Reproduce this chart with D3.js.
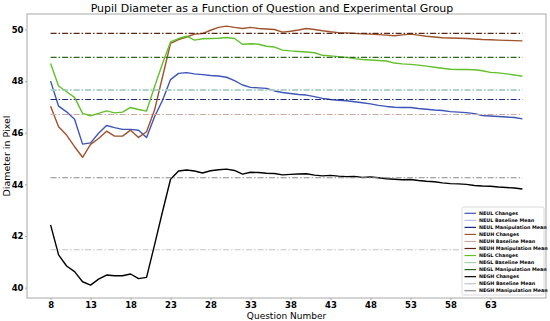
<!DOCTYPE html>
<html>
<head>
<meta charset="utf-8">
<script src="https://cdn.jsdelivr.net/npm/d3@7"></script>
<style>
  body { margin: 0; background: #fff; }
  svg { display: block; font-family: "DejaVu Sans", sans-serif; }
</style>
</head>
<body>
<svg width="550" height="321"></svg>
<script>
const QUESTIONS = [8, 9, 10, 11, 12, 13, 14, 15, 16, 17, 18, 19, 20, 21, 22, 23, 24, 25, 26, 27,
    28, 29, 30, 31, 32, 33, 34, 35, 36, 37, 38, 39, 40, 41, 42, 43, 44, 45, 46, 47,
    48, 49, 50, 51, 52, 53, 54, 55, 56, 57, 58, 59, 60, 61, 62, 63, 64, 65, 66, 67];

const NEUL = [48.00, 47.03, 46.81, 46.52, 45.56, 45.61, 45.98, 46.28, 46.20, 46.13, 46.13, 46.10, 45.82, 46.62, 47.26, 48.06, 48.30, 48.33, 48.28, 48.25,
    48.22, 48.20, 48.15, 48.02, 47.85, 47.76, 47.74, 47.72, 47.62, 47.56, 47.52, 47.48, 47.46, 47.40, 47.33, 47.29, 47.26, 47.24, 47.20, 47.16,
    47.12, 47.06, 47.02, 46.99, 46.98, 46.98, 46.94, 46.91, 46.88, 46.86, 46.82, 46.80, 46.78, 46.74, 46.67, 46.65, 46.63, 46.61, 46.59, 46.54];

const NEUH = [47.03, 46.23, 45.91, 45.46, 45.05, 45.55, 45.78, 46.06, 45.87, 45.87, 46.10, 45.82, 46.04, 46.88, 48.17, 49.46, 49.61, 49.71, 49.82, 49.84,
    49.97, 50.08, 50.13, 50.08, 50.04, 50.08, 50.04, 50.02, 50.00, 49.90, 49.93, 49.98, 50.04, 50.00, 49.95, 49.91, 49.88, 49.87, 49.85, 49.83,
    49.82, 49.80, 49.78, 49.76, 49.79, 49.82, 49.78, 49.74, 49.71, 49.68, 49.67, 49.66, 49.65, 49.63, 49.61, 49.60, 49.59, 49.58, 49.57, 49.56];

const NEGL = [48.68, 47.81, 47.59, 47.37, 46.75, 46.66, 46.75, 46.85, 46.77, 46.80, 46.98, 46.90, 46.84, 47.78, 48.68, 49.52, 49.65, 49.74, 49.59, 49.64,
    49.65, 49.66, 49.69, 49.65, 49.43, 49.45, 49.43, 49.35, 49.32, 49.20, 49.17, 49.15, 49.13, 49.10, 49.00, 48.98, 48.95, 48.92, 48.87, 48.84,
    48.82, 48.80, 48.78, 48.70, 48.67, 48.65, 48.62, 48.58, 48.54, 48.50, 48.46, 48.45, 48.45, 48.44, 48.40, 48.34, 48.32, 48.28, 48.24, 48.19];

const NEGH = [42.43, 41.27, 40.84, 40.62, 40.23, 40.10, 40.33, 40.49, 40.46, 40.46, 40.53, 40.35, 40.40, 41.66, 42.95, 44.20, 44.52, 44.56, 44.52, 44.44,
    44.53, 44.57, 44.59, 44.54, 44.40, 44.47, 44.46, 44.43, 44.42, 44.37, 44.39, 44.40, 44.41, 44.36, 44.33, 44.35, 44.32, 44.30, 44.31, 44.27,
    44.29, 44.26, 44.22, 44.20, 44.18, 44.19, 44.15, 44.12, 44.10, 44.06, 44.03, 44.02, 44.00, 43.96, 43.94, 43.93, 43.90, 43.88, 43.86, 43.82];

// baseline / manipulation means per group
const GROUPS = ['NEUL', 'NEUH', 'NEGL', 'NEGH'];
const BASELINE_MEANS = [47.66, 46.71, 47.65, 41.47];
const MANIPULATION_MEANS = [47.29, 49.85, 48.92, 44.26];

const X_TICKS = [8, 13, 18, 23, 28, 33, 38, 43, 48, 53, 58, 63];
const Y_TICKS = [40, 42, 44, 46, 48, 50];

const CHANGE_COLORS = ['#3d55b8', '#a0522d', '#62c02a', '#000000'];
const BASE_COLORS = ['#b4bce6', '#c9a9a0', '#9fd6b0', '#c4c4c4'];
const MANIP_COLORS = ['#1c2a80', '#5a2814', '#2f6a1c', '#8a8a8a'];

const SERIES = [NEUL, NEUH, NEGL, NEGH];

const MARGINS = {top: 14, right: 4, bottom: 23, left: 27};
const WIDTH = 550 - MARGINS.left - MARGINS.right;
const HEIGHT = 321 - MARGINS.top - MARGINS.bottom;

const x = d3.scaleLinear().domain([5.05, 69.95]).range([0, WIDTH]);
const y = d3.scaleLinear().domain([39.6, 50.6]).range([HEIGHT, 0]);

const svg = d3.select('svg');
const chart = svg.append('g').attr('transform', `translate(${MARGINS.left}, ${MARGINS.top})`);

const DASHDOT = '6,2,1.5,2';
const first = QUESTIONS[0], last = QUESTIONS[QUESTIONS.length - 1];

const line = d3.line()
    .x((d, i) => x(QUESTIONS[i]))
    .y(d => y(d));

GROUPS.forEach((g, i) => {
    chart.append('path')
        .datum(SERIES[i])
        .attr('d', line)
        .attr('fill', 'none')
        .attr('stroke', CHANGE_COLORS[i])
        .attr('stroke-width', 1.4)
        .attr('stroke-linejoin', 'round');

    chart.append('line')
        .attr('x1', x(first)).attr('x2', x(last))
        .attr('y1', y(BASELINE_MEANS[i])).attr('y2', y(BASELINE_MEANS[i]))
        .attr('stroke', BASE_COLORS[i])
        .attr('stroke-width', 1.1)
        .attr('stroke-dasharray', DASHDOT);

    chart.append('line')
        .attr('x1', x(first)).attr('x2', x(last))
        .attr('y1', y(MANIPULATION_MEANS[i])).attr('y2', y(MANIPULATION_MEANS[i]))
        .attr('stroke', MANIP_COLORS[i])
        .attr('stroke-width', 1.1)
        .attr('stroke-dasharray', DASHDOT);
});

// frame
chart.append('rect')
    .attr('width', WIDTH).attr('height', HEIGHT)
    .attr('fill', 'none').attr('stroke', '#a8a8a8').attr('stroke-width', 1);

// axes
const xAxis = chart.append('g')
    .attr('transform', `translate(0, ${HEIGHT})`)
    .call(d3.axisBottom(x).tickValues(X_TICKS).tickSize(2).tickPadding(1.5).tickFormat(d3.format('d')));
const yAxis = chart.append('g')
    .call(d3.axisLeft(y).tickValues(Y_TICKS).tickSize(2).tickPadding(1.5).tickFormat(d3.format('d')));

[xAxis, yAxis].forEach(a => {
    a.select('.domain').remove();
    a.selectAll('line').attr('stroke', '#a8a8a8');
    a.selectAll('text')
        .attr('fill', '#000')
        .style('font-family', '"DejaVu Sans", sans-serif')
        .style('font-size', '8.5px')
        .style('font-weight', 'bold');
});

svg.append('text')
    .attr('x', 272).attr('y', 11.5)
    .attr('text-anchor', 'middle')
    .style('font-size', '11px')
    .text('Pupil Diameter as a Function of Question and Experimental Group');

svg.append('text')
    .attr('x', MARGINS.left + WIDTH / 2).attr('y', 318.5)
    .attr('text-anchor', 'middle')
    .style('font-size', '9px')
    .text('Question Number');

svg.append('text')
    .attr('transform', `translate(9.5, ${MARGINS.top + HEIGHT / 2}) rotate(-90)`)
    .attr('text-anchor', 'middle')
    .style('font-size', '9.5px')
    .text('Diameter in Pixel');

// legend
const legendItems = [];
GROUPS.forEach((g, i) => {
    legendItems.push({label: g + ' Changes', color: CHANGE_COLORS[i]});
    legendItems.push({label: g + ' Baseline Mean', color: BASE_COLORS[i]});
    legendItems.push({label: g + ' Manipulation Mean', color: MANIP_COLORS[i]});
});

const legend = svg.append('g').attr('transform', 'translate(462, 207)');
legend.append('rect')
    .attr('width', 82).attr('height', 88)
    .attr('fill', '#fff').attr('stroke', '#d0d0d0').attr('stroke-width', 0.8)
    .attr('rx', 1.5);

const entries = legend.selectAll('.entry')
    .data(legendItems)
    .enter()
    .append('g')
    .attr('transform', (d, i) => `translate(0, ${6.3 + i * 7.04})`);

entries.append('line')
    .attr('x1', 2.5).attr('x2', 14)
    .attr('stroke', d => d.color)
    .attr('stroke-width', 1.2);

entries.append('text')
    .attr('x', 17).attr('y', 1.7)
    .style('font-size', '4.8px')
    .style('font-weight', 'bold')
    .text(d => d.label);
</script>
</body>
</html>
